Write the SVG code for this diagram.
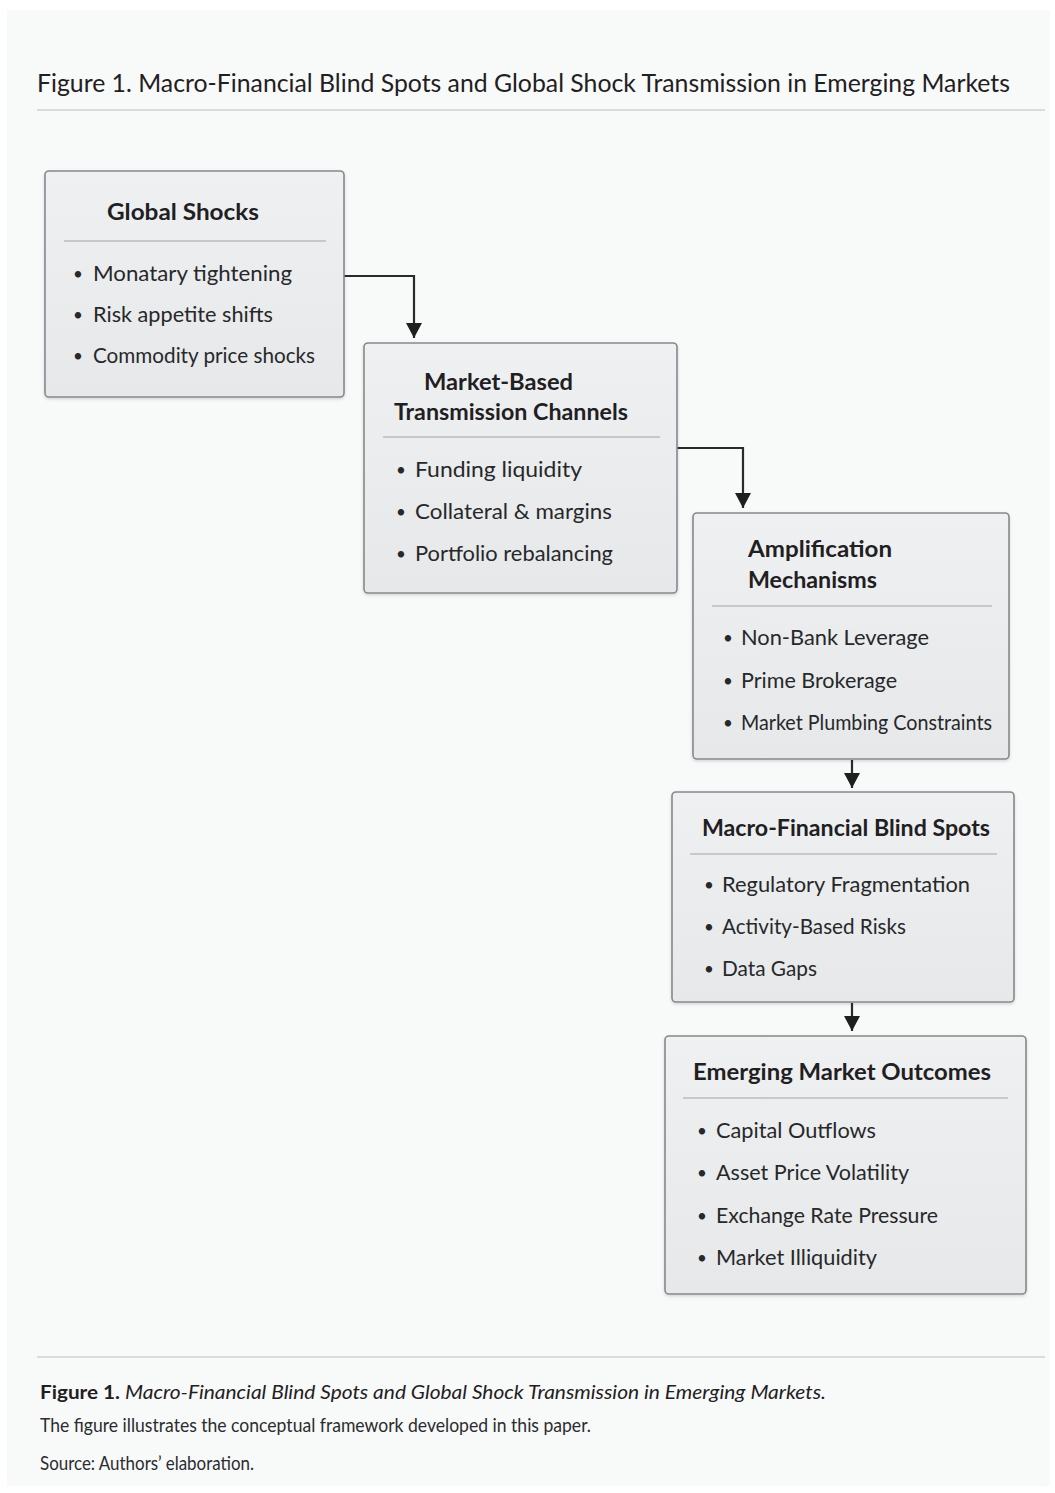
<svg xmlns="http://www.w3.org/2000/svg" width="1055" height="1493" viewBox="0 0 1055 1493">
<style>
.t{font-family:Lato,"Open Sans","Liberation Sans",sans-serif;fill:#1f2022}
.h{font-size:23px;font-weight:700}
.b{font-size:21.5px;font-weight:400;fill:#26282a}
.bu{font-size:17px;fill:#26282a}
.d{font-size:20px;fill:#2a2c2e}
.box{fill:url(#g);stroke:#86898c;stroke-width:1.6;filter:url(#sh)}
.div{stroke:#b9bcbf;stroke-width:1.4}
.con{fill:none;stroke:#2a2a2a;stroke-width:2.2}
.rule{stroke:#cfd1d3;stroke-width:1.5}
</style>
<defs>
<linearGradient id="g" x1="0" y1="0" x2="0" y2="1">
<stop offset="0" stop-color="#eff0f1"/>
<stop offset="1" stop-color="#e7e8e9"/>
</linearGradient>
<filter id="sh" x="-5%" y="-5%" width="110%" height="115%">
<feDropShadow dx="0" dy="1.5" stdDeviation="1.5" flood-color="#000" flood-opacity="0.15"/>
</filter>
<marker id="ah" markerWidth="15" markerHeight="16" viewBox="0 0 15 16" refX="15" refY="8" orient="auto" markerUnits="userSpaceOnUse">
<path d="M0,0 L15,8 L0,16 z" fill="#1f1f1f"/>
</marker>
</defs>
<rect x="0" y="0" width="1055" height="1493" fill="#ffffff"/>
<rect x="7" y="10" width="1043" height="1476" fill="#f8f9f9"/>

<text class="t" x="37" y="92" font-size="24.5" fill="#18191a" textLength="973" lengthAdjust="spacingAndGlyphs">Figure 1. Macro-Financial Blind Spots and Global Shock Transmission in Emerging Markets</text>
<line class="rule" x1="37" y1="110" x2="1045" y2="110"/>

<g id="connectors">
<path class="con" d="M344,276 H414 V338" marker-end="url(#ah)"/>
<path class="con" d="M677,448 H743 V508" marker-end="url(#ah)"/>
<path class="con" d="M852,760 V788" marker-end="url(#ah)"/>
<path class="con" d="M852,1003 V1031" marker-end="url(#ah)"/>
</g>

<g id="global-shocks">
<rect class="box" x="45" y="171" width="299" height="226" rx="4"/>
<text class="t h" x="107" y="220" textLength="152" lengthAdjust="spacingAndGlyphs">Global Shocks</text>
<line class="div" x1="64" y1="241" x2="326" y2="241"/>
<text class="t bu" x="73" y="280">•</text><text class="t b" x="93" y="281" textLength="199" lengthAdjust="spacingAndGlyphs">Monatary tightening</text>
<text class="t bu" x="73" y="321">•</text><text class="t b" x="93" y="322" textLength="180" lengthAdjust="spacingAndGlyphs">Risk appetite shifts</text>
<text class="t bu" x="73" y="362">•</text><text class="t b" x="93" y="363" textLength="222" lengthAdjust="spacingAndGlyphs">Commodity price shocks</text>
</g>

<g id="market-based">
<rect class="box" x="364" y="343" width="313" height="250" rx="4"/>
<text class="t h" x="424" y="390" textLength="149" lengthAdjust="spacingAndGlyphs">Market-Based</text>
<text class="t h" x="394" y="420" textLength="234" lengthAdjust="spacingAndGlyphs">Transmission Channels</text>
<line class="div" x1="383" y1="437" x2="660" y2="437"/>
<text class="t bu" x="396" y="476">•</text><text class="t b" x="415" y="477" textLength="167" lengthAdjust="spacingAndGlyphs">Funding liquidity</text>
<text class="t bu" x="396" y="518">•</text><text class="t b" x="415" y="519" textLength="197" lengthAdjust="spacingAndGlyphs">Collateral &amp; margins</text>
<text class="t bu" x="396" y="560">•</text><text class="t b" x="415" y="561" textLength="198" lengthAdjust="spacingAndGlyphs">Portfolio rebalancing</text>
</g>

<g id="amplification">
<rect class="box" x="693" y="513" width="316" height="246" rx="4"/>
<text class="t h" x="748" y="557" textLength="144" lengthAdjust="spacingAndGlyphs">Amplification</text>
<text class="t h" x="748" y="588" textLength="129" lengthAdjust="spacingAndGlyphs">Mechanisms</text>
<line class="div" x1="712" y1="606" x2="992" y2="606"/>
<text class="t bu" x="723" y="644">•</text><text class="t b" x="741" y="645" textLength="188" lengthAdjust="spacingAndGlyphs">Non-Bank Leverage</text>
<text class="t bu" x="723" y="687">•</text><text class="t b" x="741" y="688" textLength="156" lengthAdjust="spacingAndGlyphs">Prime Brokerage</text>
<text class="t bu" x="723" y="729">•</text><text class="t b" x="741" y="730" textLength="251" lengthAdjust="spacingAndGlyphs">Market Plumbing Constraints</text>
</g>

<g id="blind-spots">
<rect class="box" x="672" y="792" width="342" height="210" rx="4"/>
<text class="t h" x="702" y="836" textLength="288" lengthAdjust="spacingAndGlyphs">Macro-Financial Blind Spots</text>
<line class="div" x1="690" y1="854" x2="997" y2="854"/>
<text class="t bu" x="704" y="891">•</text><text class="t b" x="722" y="892" textLength="248" lengthAdjust="spacingAndGlyphs">Regulatory Fragmentation</text>
<text class="t bu" x="704" y="933">•</text><text class="t b" x="722" y="934" textLength="184" lengthAdjust="spacingAndGlyphs">Activity-Based Risks</text>
<text class="t bu" x="704" y="975">•</text><text class="t b" x="722" y="976" textLength="95" lengthAdjust="spacingAndGlyphs">Data Gaps</text>
</g>

<g id="outcomes">
<rect class="box" x="665" y="1036" width="361" height="258" rx="4"/>
<text class="t h" x="693" y="1080" textLength="298" lengthAdjust="spacingAndGlyphs">Emerging Market Outcomes</text>
<line class="div" x1="683" y1="1098" x2="1008" y2="1098"/>
<text class="t bu" x="697" y="1137">•</text><text class="t b" x="716" y="1138" textLength="160" lengthAdjust="spacingAndGlyphs">Capital Outflows</text>
<text class="t bu" x="697" y="1179">•</text><text class="t b" x="716" y="1180" textLength="193" lengthAdjust="spacingAndGlyphs">Asset Price Volatility</text>
<text class="t bu" x="697" y="1222">•</text><text class="t b" x="716" y="1223" textLength="222" lengthAdjust="spacingAndGlyphs">Exchange Rate Pressure</text>
<text class="t bu" x="697" y="1264">•</text><text class="t b" x="716" y="1265" textLength="161" lengthAdjust="spacingAndGlyphs">Market Illiquidity</text>
</g>

<line class="rule" x1="37" y1="1357" x2="1045" y2="1357"/>
<text class="t" x="40" y="1399" font-size="19" font-weight="700" textLength="80" lengthAdjust="spacingAndGlyphs">Figure 1.</text>
<text class="t" x="125" y="1399" font-size="19" font-style="italic" fill="#3a3c3e" textLength="701" lengthAdjust="spacingAndGlyphs">Macro-Financial Blind Spots and Global Shock Transmission in Emerging Markets.</text>
<text class="t d" x="40" y="1432" font-size="16.5" textLength="551" lengthAdjust="spacingAndGlyphs">The figure illustrates the conceptual framework developed in this paper.</text>
<text class="t d" x="40" y="1470" font-size="16.5" textLength="214" lengthAdjust="spacingAndGlyphs">Source: Authors’ elaboration.</text>
</svg>
